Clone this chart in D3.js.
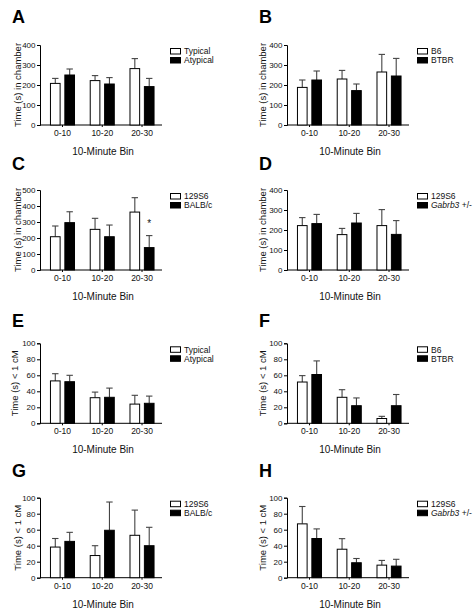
<!DOCTYPE html>
<html><head><meta charset="utf-8">
<script src="https://cdn.jsdelivr.net/npm/d3@7"></script>
<style>body{margin:0;background:#fff}svg{display:block}text{font-family:"Liberation Sans",Arial,sans-serif;fill:#111}</style>
</head><body>
<svg id="c" width="474" height="616"></svg>
<script>
const bins = ["0-10","10-20","20-30"];
const letters = ["A","B","C","D","E","F","G","H"];
const yTitles = ["Time (s) in chamber","Time (s) in chamber","Time (s) in chamber","Time (s) in chamber","Time (s) < 1 cM","Time (s) < 1 cM","Time (s) < 1 cM","Time (s) < 1 cM"];
const yMaxes = [400,400,500,400,100,100,100,100];
const yTickSteps = [100,100,100,100,20,20,20,20];
const xTitle = "10-Minute Bin";
const seriesNames = [["Typical","Atypical"],["B6","BTBR"],["129S6","BALB/c"],["129S6","Gabrb3 +/-"],["Typical","Atypical"],["B6","BTBR"],["129S6","BALB/c"],["129S6","Gabrb3 +/-"]];
// means (white series, black series) and SEM
const whiteMeans = [[208,222,282],[188,230,265],[208,254,362],[222,177,222],[53,32,24],[51.6,32.5,6],[38.3,27.7,53],[67.3,35.6,15.7]];
const whiteSem   = [[25,25,50],[37,43,88],[67,69,90],[40,31,80],[9,7,11],[8,9.5,2.7],[10.7,12.3,31.5],[21.7,13.2,5.9]];
const blackMeans = [[250,205,192],[225,172,245],[296,208,140],[232,235,178],[52,32.5,25],[61,22,22],[45.4,59.3,40],[49,18.7,14.5]];
const blackSem   = [[30,32,41],[45,33,88],[68,73,75],[46,48,69],[8,11.5,9],[17,9.7,14],[11.3,35.3,23],[12,5.3,8.5]];
// significance markers: [panel index, bin, series index]
const stars = [[2,"20-30",1]];

const svg = d3.select("#c");
const colX = [40,287];
const rowBottom = [125,270,423.3,577.7];
const letterX = [12,259];
const letterY = [23,170,327,477];
const titleXs = [17,262,17,262,14,262,17,262];
const plotH = 80, plotW = 122;

letters.forEach((L,i)=>{
  const col = i%2, row = Math.floor(i/2);
  const ax = colX[col], bottom = rowBottom[row], top = bottom - plotH;
  const g = svg.append("g");
  g.append("text").attr("x",letterX[col]).attr("y",letterY[row]).attr("font-size",18).attr("font-weight","bold").style("fill","#000").text(L);
  const y = d3.scaleLinear().domain([0,yMaxes[i]]).range([bottom,top]);
  const x0 = d3.scaleBand().domain(bins).range([ax+2.6, ax+121.9]).paddingInner(0.37).paddingOuter(0.185);
  const x1 = d3.scaleBand().domain([0,1]).range([0,x0.bandwidth()]).paddingInner(0.26).paddingOuter(0);
  // y axis
  const yAxis = d3.axisLeft(y).tickValues(d3.range(0,yMaxes[i]+1,yTickSteps[i])).tickSize(3).tickPadding(1.5);
  const ya = g.append("g").attr("transform",`translate(${ax},0)`).call(yAxis);
  ya.select(".domain").attr("stroke","#000").attr("stroke-width",1);
  ya.selectAll(".tick line").attr("stroke","#000");
  ya.selectAll("text").attr("font-size",8).attr("font-family","Liberation Sans, Arial, sans-serif").style("fill","#111");
  // x axis
  const xAxis = d3.axisBottom(x0).tickSize(2).tickSizeOuter(0).tickPadding(3);
  const xa = g.append("g").attr("transform",`translate(0,${bottom})`).call(xAxis);
  xa.select(".domain").attr("d",`M${ax},0H${ax+plotW}`).attr("stroke","#000").attr("stroke-width",1);
  xa.selectAll(".tick line").attr("stroke","#000");
  xa.selectAll("text").attr("font-size",8.5).attr("font-family","Liberation Sans, Arial, sans-serif").style("fill","#111");
  // bars
  const series = [{m:whiteMeans[i],s:whiteSem[i],fill:"#fff"},{m:blackMeans[i],s:blackSem[i],fill:"#000"}];
  series.forEach((sr,si)=>{
    bins.forEach((b,bi)=>{
      const bx = x0(b)+x1(si), bw = x1.bandwidth(), cx = bx+bw/2;
      const yt = y(sr.m[bi]+sr.s[bi]);
      g.append("line").attr("x1",cx).attr("x2",cx).attr("y1",y(sr.m[bi])).attr("y2",yt).attr("stroke","#444").attr("stroke-width",1.1);
      g.append("line").attr("x1",cx-3.2).attr("x2",cx+3.2).attr("y1",yt).attr("y2",yt).attr("stroke","#444").attr("stroke-width",1.1);
      g.append("rect").attr("x",bx+0.5).attr("y",y(sr.m[bi])).attr("width",bw-1).attr("height",bottom-y(sr.m[bi]))
        .attr("fill",sr.fill).attr("stroke","#000").attr("stroke-width",1);
    });
  });
  stars.filter(s=>s[0]===i).forEach(s=>{
    const bi = bins.indexOf(s[1]);
    const sr = series[s[2]];
    const cx = x0(s[1])+x1(s[2])+x1.bandwidth()/2;
    g.append("text").attr("x",cx).attr("y",y(sr.m[bi]+sr.s[bi])-9).attr("text-anchor","middle").attr("font-size",10).text("*");
  });
  // legend
  const lx = ax+130;
  seriesNames[i].forEach((nm,si)=>{
    const by = top+3+si*9;
    g.append("rect").attr("x",lx+0.5).attr("y",by+0.5).attr("width",10).attr("height",5.5).attr("fill",si? "#000":"#fff").attr("stroke","#000").attr("stroke-width",1);
    const t = g.append("text").attr("x",lx+14).attr("y",by+6.3).attr("font-size",8.5);
    if(nm.startsWith("Gabrb3")){
      t.append("tspan").attr("font-style","italic").text("Gabrb3");
      t.append("tspan").text(nm.slice(6));
    } else t.text(nm);
  });
  // axis titles
  g.append("text").attr("x",ax+63).attr("y",bottom+30).attr("text-anchor","middle").attr("font-size",10).text(xTitle);
  g.append("text").attr("transform",`translate(${titleXs[i]+3.5},${(top+bottom)/2}) rotate(-90)`).attr("text-anchor","middle").attr("font-size",9.5).text(yTitles[i]);
});
</script>
</body></html>
